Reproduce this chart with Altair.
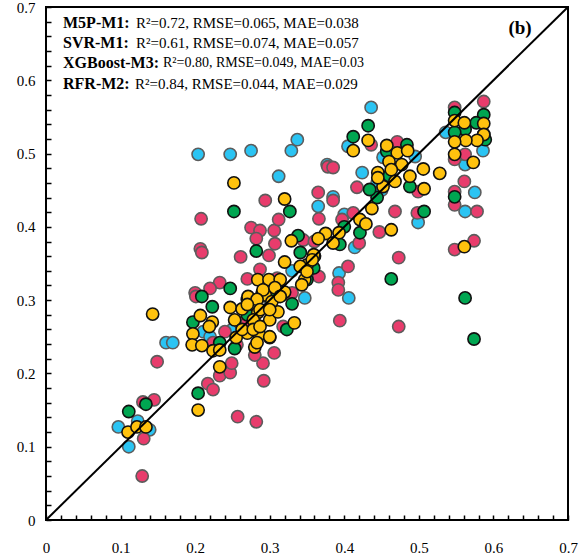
import altair as alt
import pandas as pd

series_names = ["M5P-M1", "SVR-M1", "XGBoost-M3", "RFR-M2"]
stats_text = [
    "R²=0.72, RMSE=0.065, MAE=0.038",
    "R²=0.61, RMSE=0.074, MAE=0.057",
    "R²=0.80, RMSE=0.049, MAE=0.03",
    "R²=0.84, RMSE=0.044, MAE=0.029",
]
panel_label = "(b)"
axis_ticks = [round(i * 0.02, 2) for i in range(36)]
diag_values = [0.0, 0.7]

# (observed, predicted) pairs
m5p_m1 = [(0.204,0.499),(0.247,0.499),(0.275,0.504),(0.329,0.504),(0.337,0.519),(0.312,0.469),
          (0.377,0.485),(0.365,0.428),(0.436,0.563),(0.405,0.510),(0.424,0.474),(0.385,0.441),
          (0.400,0.417),(0.414,0.372),(0.393,0.337),(0.406,0.303),(0.347,0.303),(0.499,0.406),
          (0.536,0.529),(0.562,0.485),(0.586,0.504),(0.575,0.447),(0.562,0.421),(0.495,0.496),
          (0.452,0.495),(0.444,0.460),(0.161,0.242),(0.170,0.242),(0.097,0.127),(0.111,0.100),
          (0.123,0.135),(0.139,0.123),(0.211,0.257),(0.220,0.250),(0.300,0.300),(0.330,0.340),
          (0.250,0.260),(0.450,0.450),(0.280,0.270)]
svr_m1 = [(0.294,0.436),(0.208,0.411),(0.207,0.370),(0.209,0.365),(0.261,0.359),(0.275,0.399),
          (0.287,0.395),(0.306,0.395),(0.312,0.410),(0.282,0.384),(0.307,0.377),(0.299,0.361),
          (0.233,0.324),(0.220,0.316),(0.200,0.310),(0.270,0.329),(0.287,0.342),(0.378,0.482),
          (0.365,0.447),(0.366,0.411),(0.587,0.571),(0.548,0.563),(0.471,0.516),(0.436,0.512),
          (0.385,0.481),(0.417,0.454),(0.385,0.436),(0.397,0.410),(0.412,0.419),(0.468,0.421),
          (0.498,0.419),(0.561,0.462),(0.548,0.448),(0.548,0.430),(0.578,0.421),(0.447,0.393),
          (0.420,0.378),(0.345,0.382),(0.405,0.346),(0.392,0.324),(0.366,0.332),(0.473,0.358),
          (0.548,0.369),(0.574,0.381),(0.562,0.499),(0.548,0.492),(0.499,0.448),(0.394,0.272),
          (0.473,0.264),(0.392,0.314),(0.149,0.216),(0.201,0.305),(0.240,0.257),(0.233,0.197),
          (0.247,0.201),(0.217,0.186),(0.224,0.178),(0.291,0.214),(0.292,0.190),(0.306,0.228),
          (0.257,0.141),(0.282,0.134),(0.130,0.161),(0.145,0.164),(0.131,0.111),(0.129,0.060),
          (0.260,0.269),(0.256,0.239),(0.280,0.225),(0.249,0.214),(0.318,0.264),(0.224,0.242),
          (0.330,0.310),(0.360,0.380),(0.270,0.270),(0.310,0.330)]
xgb_m3 = [(0.252,0.421),(0.327,0.421),(0.282,0.367),(0.338,0.388),(0.247,0.316),(0.209,0.305),
          (0.341,0.365),(0.432,0.538),(0.412,0.523),(0.548,0.556),(0.587,0.553),(0.577,0.542),
          (0.587,0.526),(0.589,0.519),(0.562,0.533),(0.548,0.529),(0.484,0.512),(0.457,0.503),
          (0.488,0.455),(0.507,0.421),(0.548,0.441),(0.444,0.440),(0.421,0.392),(0.394,0.376),
          (0.359,0.344),(0.463,0.329),(0.562,0.303),(0.350,0.328),(0.434,0.451),(0.574,0.247),
          (0.223,0.291),(0.197,0.270),(0.253,0.234),(0.233,0.242),(0.300,0.249),(0.323,0.260),
          (0.330,0.295),(0.204,0.173),(0.111,0.148),(0.134,0.158),(0.270,0.301),(0.270,0.280),
          (0.310,0.310),(0.360,0.360),(0.400,0.400),(0.460,0.470),(0.290,0.310)]
rfr_m2 = [(0.252,0.460),(0.320,0.438),(0.329,0.381),(0.432,0.518),(0.412,0.504),(0.548,0.545),
          (0.561,0.542),(0.587,0.541),(0.587,0.526),(0.578,0.518),(0.563,0.518),(0.548,0.516),
          (0.548,0.499),(0.573,0.488),(0.457,0.511),(0.471,0.501),(0.485,0.504),(0.460,0.489),
          (0.477,0.485),(0.445,0.474),(0.463,0.478),(0.506,0.479),(0.528,0.473),(0.488,0.469),
          (0.468,0.462),(0.452,0.455),(0.507,0.452),(0.437,0.425),(0.421,0.410),(0.429,0.404),
          (0.463,0.396),(0.393,0.392),(0.375,0.391),(0.385,0.378),(0.365,0.384),(0.359,0.362),
          (0.350,0.348),(0.347,0.328),(0.561,0.373),(0.445,0.467),(0.143,0.281),(0.207,0.279),
          (0.223,0.270),(0.197,0.254),(0.196,0.239),(0.209,0.238),(0.224,0.231),(0.233,0.232),
          (0.233,0.209),(0.247,0.290),(0.263,0.288),(0.271,0.305),(0.284,0.283),(0.294,0.307),
          (0.300,0.273),(0.311,0.284),(0.316,0.307),(0.333,0.269),(0.270,0.255),(0.286,0.253),
          (0.280,0.236),(0.255,0.249),(0.204,0.150),(0.110,0.120),(0.122,0.127),(0.134,0.127),
          (0.219,0.264),(0.320,0.352),(0.341,0.346),(0.357,0.355),(0.350,0.339),(0.284,0.328),
          (0.299,0.328),(0.314,0.328),(0.320,0.311),(0.343,0.321),(0.291,0.314),(0.307,0.317),
          (0.283,0.301),(0.303,0.298),(0.314,0.305),(0.270,0.294),(0.287,0.287),(0.300,0.287),
          (0.278,0.273),(0.253,0.273),(0.263,0.260),(0.278,0.260),(0.287,0.264),(0.283,0.242),
          (0.300,0.250)]

rows = []
for name, pts in zip(series_names, [m5p_m1, svr_m1, xgb_m3, rfr_m2]):
    for x, y in pts:
        rows.append({"series": name, "observed": x, "predicted": y})
df = pd.DataFrame(rows)
df["order"] = range(len(df))

fill_colors = ["#2BC4F3", "#E83C6C", "#00A651", "#FFC20E"]
stroke_colors = ["#5c5c5c", "#5c5c5c", "#111111", "#111111"]

FONT = "Liberation Serif"
W, H = 522, 513
PAD = {"left": 46, "top": 7, "right": 16, "bottom": 40}

scale = alt.Scale(domain=[0, 0.7], nice=False, zero=False)
label_expr = ("abs(datum.value*10 - round(datum.value*10)) < 0.001 ? "
              "format(datum.value, '.1~f') : ''")


def make_axis(pad):
    return alt.Axis(values=axis_ticks, labelExpr=label_expr, title=None, grid=False,
                    domain=False, offset=-5, tickSize=5, tickColor="black", tickWidth=1.5,
                    labelPadding=pad, labelFontSize=15, labelColor="black", labelFont=FONT,
                    labelFlush=False, labelOverlap=False, labelBound=False)


X_AXIS = make_axis(20)
Y_AXIS = make_axis(11)

points = alt.Chart(df).mark_circle(size=150, opacity=1, strokeWidth=1.6).encode(
    x=alt.X("observed:Q", scale=scale, axis=X_AXIS),
    y=alt.Y("predicted:Q", scale=scale, axis=Y_AXIS),
    color=alt.Color("series:N", scale=alt.Scale(domain=series_names, range=fill_colors), legend=None),
    stroke=alt.Stroke("series:N", scale=alt.Scale(domain=series_names, range=stroke_colors), legend=None),
    order=alt.Order("order:Q"),
)

diag = alt.Chart(pd.DataFrame({"observed": diag_values, "predicted": diag_values})).mark_line(
    color="black", strokeWidth=2
).encode(x=alt.X("observed:Q", scale=scale, axis=X_AXIS),
         y=alt.Y("predicted:Q", scale=scale, axis=Y_AXIS))

layers = [points, diag]
name_x = 63 - PAD["left"]
stat_x = [136, 136, 163, 135]
stat_size = [15, 15, 14, 15]
for i, (name, stat) in enumerate(zip(series_names, stats_text)):
    ypix = 23 + 20.2 * i - PAD["top"]
    layers.append(
        alt.Chart(pd.DataFrame({"t": [name + ":"]})).mark_text(
            align="left", baseline="middle", font=FONT, fontSize=16, fontWeight="bold", color="black"
        ).encode(text="t:N", x=alt.value(name_x), y=alt.value(ypix))
    )
    layers.append(
        alt.Chart(pd.DataFrame({"t": [stat]})).mark_text(
            align="left", baseline="middle", font=FONT, fontSize=stat_size[i], color="black"
        ).encode(text="t:N", x=alt.value(stat_x[i] - PAD["left"]), y=alt.value(ypix))
    )
layers.append(
    alt.Chart(pd.DataFrame({"t": [panel_label]})).mark_text(
        align="center", baseline="middle", font=FONT, fontSize=19, fontWeight="bold", color="black"
    ).encode(text="t:N", x=alt.value(520 - PAD["left"]), y=alt.value(28 - PAD["top"]))
)

chart = alt.layer(*layers).properties(
    width=W, height=H, padding=PAD, autosize=alt.AutoSizeParams(type="none"), background="white"
).configure_view(stroke="black", strokeWidth=2).configure_axis(labelOverlap=False)

chart.save("out.html", embed_options={"renderer": "svg", "actions": False})
